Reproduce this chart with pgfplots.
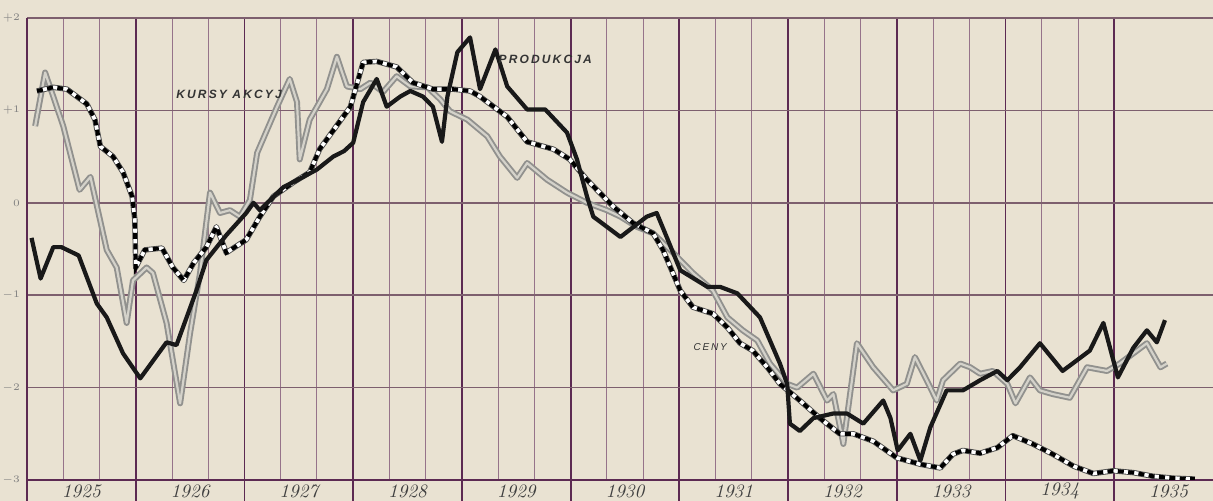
\documentclass[border=0pt]{standalone}
\usepackage{pgfplots}
\usepackage{pgfplotstable}
\usepackage{fontspec}
\pgfplotsset{compat=1.18}
\newfontfamily\labfont[LetterSpace=18]{Liberation Sans}
\definecolor{paper}{RGB}{233,226,210}
\definecolor{gridmaj}{RGB}{92,42,82}
\definecolor{gridmin}{RGB}{150,115,138}
\definecolor{gridh}{RGB}{125,95,110}
\definecolor{stockgray}{RGB}{145,145,142}
\definecolor{stocklight}{RGB}{212,210,202}

\pgfplotstableread{
m v
0.5 -0.38
1.5 -0.82
2.9 -0.48
3.8 -0.48
5.7 -0.57
7.7 -1.09
8.8 -1.24
10.6 -1.63
12.5 -1.90
15.4 -1.51
16.5 -1.54
18.7 -0.95
19.8 -0.62
22.0 -0.35
24.2 -0.11
25.0 0.00
25.7 -0.08
28.3 0.17
30.5 0.28
32.0 0.36
33.8 0.50
35.0 0.56
36.0 0.65
37.1 1.09
38.6 1.34
39.7 1.04
41.2 1.15
42.3 1.21
43.7 1.15
44.8 1.04
45.8 0.66
46.4 1.15
47.5 1.63
48.9 1.79
50.0 1.23
51.7 1.66
53.0 1.26
55.2 1.01
57.2 1.01
59.6 0.76
60.7 0.47
61.8 0.07
62.5 -0.15
64.0 -0.26
65.5 -0.37
68.4 -0.15
69.5 -0.11
70.6 -0.37
72.1 -0.73
75.1 -0.91
76.5 -0.91
78.4 -0.98
80.9 -1.24
83.1 -1.74
83.9 -1.96
84.2 -2.39
85.3 -2.47
86.8 -2.33
89.0 -2.28
90.5 -2.28
92.3 -2.39
94.5 -2.14
95.3 -2.33
96.1 -2.68
97.5 -2.50
98.6 -2.79
99.7 -2.43
101.5 -2.03
103.3 -2.03
105.2 -1.92
107.1 -1.82
108.2 -1.92
109.6 -1.78
111.8 -1.52
114.3 -1.82
117.3 -1.60
118.8 -1.30
120.4 -1.89
122.1 -1.57
123.6 -1.38
124.7 -1.51
125.6 -1.27
}\produkcja

\pgfplotstableread{
m v
1.1 1.21
2.9 1.25
4.4 1.23
6.6 1.07
7.5 0.90
8.1 0.61
9.5 0.50
10.6 0.33
11.6 0.07
11.9 -0.18
12.0 -0.70
13.0 -0.51
14.9 -0.49
16.1 -0.70
17.3 -0.84
18.4 -0.65
19.8 -0.48
20.9 -0.26
22.0 -0.54
24.2 -0.40
25.7 -0.15
27.2 0.07
29.4 0.22
31.2 0.33
32.3 0.58
35.7 1.04
37.1 1.52
38.6 1.53
40.8 1.47
42.6 1.30
44.8 1.23
47.0 1.23
48.9 1.21
50.0 1.15
53.0 0.93
55.2 0.66
58.1 0.58
59.9 0.47
61.8 0.25
63.2 0.11
64.7 -0.04
66.9 -0.22
69.1 -0.33
70.2 -0.51
72.1 -0.95
73.5 -1.13
75.7 -1.20
77.3 -1.35
78.7 -1.52
80.1 -1.60
81.7 -1.78
83.1 -1.96
85.3 -2.14
87.5 -2.33
89.7 -2.50
91.2 -2.50
93.4 -2.58
96.0 -2.76
98.6 -2.83
100.8 -2.87
102.2 -2.72
103.3 -2.68
105.2 -2.71
107.1 -2.65
108.8 -2.52
111.0 -2.61
113.2 -2.72
115.5 -2.85
117.7 -2.93
119.9 -2.90
122.1 -2.92
124.3 -2.96
126.5 -2.98
128.9 -2.99
}\ceny

\pgfplotstableread{
m v
0.9 0.83
2.0 1.41
2.9 1.15
4.0 0.83
5.8 0.14
7.0 0.28
8.8 -0.51
9.9 -0.70
11.0 -1.30
11.7 -0.84
13.2 -0.70
13.9 -0.76
15.4 -1.30
16.9 -2.17
18.0 -1.41
19.1 -0.76
20.2 0.11
21.3 -0.11
22.4 -0.08
23.5 -0.15
24.6 0.03
25.4 0.54
27.6 1.04
29.0 1.34
29.8 1.09
30.1 0.47
31.2 0.90
33.1 1.23
34.2 1.58
35.3 1.26
36.8 1.23
37.9 1.30
39.3 1.20
40.8 1.37
42.3 1.26
44.2 1.25
45.6 1.12
46.7 0.99
48.6 0.90
50.8 0.72
52.2 0.50
54.1 0.27
55.2 0.43
57.4 0.25
59.6 0.11
61.8 0.00
64.0 -0.08
65.5 -0.15
67.3 -0.26
69.1 -0.33
71.0 -0.51
73.5 -0.76
75.7 -0.95
77.3 -1.24
79.0 -1.38
80.6 -1.49
82.0 -1.74
83.9 -1.96
85.0 -2.00
86.8 -1.85
88.3 -2.14
89.0 -2.07
90.1 -2.61
91.6 -1.52
93.4 -1.78
95.6 -2.03
97.1 -1.96
98.0 -1.67
99.3 -1.92
100.4 -2.14
101.1 -1.92
103.0 -1.74
104.1 -1.78
105.2 -1.85
106.6 -1.82
108.2 -1.96
109.1 -2.17
110.7 -1.89
111.8 -2.03
113.2 -2.07
115.1 -2.11
117.0 -1.78
119.2 -1.82
120.6 -1.74
123.6 -1.52
125.1 -1.78
125.8 -1.74
}\kursy

\begin{document}
\begin{tikzpicture}
\useasboundingbox (0,0) rectangle (606.5pt,250.5pt);
\fill[paper] (0,0) rectangle (606.5pt,250.5pt);
\begin{axis}[
  at={(13.5pt,10.5pt)}, anchor=south west,
  scale only axis, width=593pt, height=231pt,
  xmin=0, xmax=130.9, ymin=-3, ymax=2,
  axis lines=left,
  axis line style={-, draw=gridmaj, line width=0.9pt},
  xtick={0,12,...,120}, xticklabels={},
  minor x tick num=2,
  xtick pos=bottom, ytick pos=left,
  tick align=outside,
  major tick length=10.5pt, minor tick length=0pt,
  xtick style={draw=gridmaj, line width=0.9pt},
  xmajorgrids, xminorgrids, ymajorgrids,
  major x grid style={draw=gridmaj, line width=0.9pt},
  minor x grid style={draw=gridmin, line width=0.45pt},
  major y grid style={draw=gridh, line width=0.75pt},
  ytick={-3,-2,-1,0,1,2},
  yticklabels={$-3$,$-2$,$-1$,$0$,$+1$,$+2$},
  ytick style={draw=none},
  yticklabel style={font=\fontsize{5}{5}\selectfont, text=gray, xshift=10.5pt},
  extra x ticks={6,18,30,42,54,66,78,90,102,114,126},
  extra x tick labels={1925,1926,1927,1928,1929,1930,1931,1932,1933,1934,1935},
  extra x tick style={grid=none, major tick length=0pt,
    xticklabel style={anchor=center, yshift=-5.5pt, font=\fontsize{9.5}{9.5}\selectfont\itshape, text=black!75}},
  clip=true,
]
\addplot[stockgray, line width=3pt, line join=round] table[x=m,y=v]{\kursy};
\addplot[stocklight, line width=1.1pt, line join=round] table[x=m,y=v]{\kursy};
\addplot[black!70, line width=2.7pt, line join=round] table[x=m,y=v]{\ceny};
\addplot[white, line width=1.8pt, line join=round] table[x=m,y=v]{\ceny};
\addplot[black, line width=2pt, dash pattern=on 3pt off 2.2pt] table[x=m,y=v]{\ceny};
\addplot[black!90, line width=2.1pt, line join=round] table[x=m,y=v]{\produkcja};
\node[font=\labfont\fontsize{6}{6}\selectfont\bfseries\itshape, text=black!80] at (axis cs:22.3,1.17) {KURSY AKCYJ};
\node[font=\labfont\fontsize{6}{6}\selectfont\bfseries\itshape, text=black!80] at (axis cs:57.2,1.55) {PRODUKCJA};
\node[font=\labfont\fontsize{5}{5}\selectfont\itshape, text=black!80] at (axis cs:75.4,-1.56) {CENY};
\end{axis}
\end{tikzpicture}
\end{document}
